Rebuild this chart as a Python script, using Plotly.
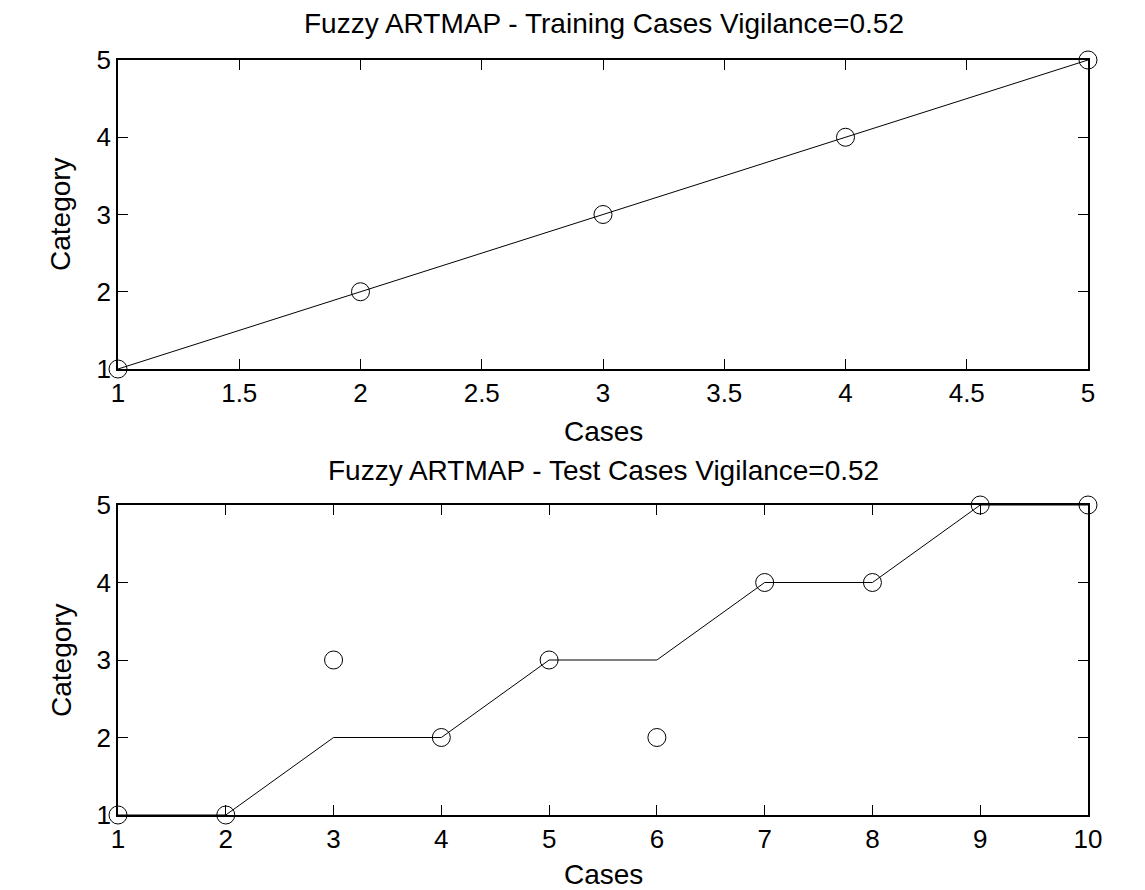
import plotly.graph_objects as go

# training cases
train_cases = [1, 2, 3, 4, 5]
train_target = [1, 2, 3, 4, 5]
train_pred = [1, 2, 3, 4, 5]

# test cases
test_cases = [1, 2, 3, 4, 5, 6, 7, 8, 9, 10]
test_target = [1, 1, 2, 2, 3, 3, 4, 4, 5, 5]
test_pred = [1, 1, 3, 2, 3, 2, 4, 4, 5, 5]

train_xticks = [1, 1.5, 2, 2.5, 3, 3.5, 4, 4.5, 5]
test_xticks = list(range(1, 11))
yticks = [1, 2, 3, 4, 5]

FONT = "Liberation Sans, Arial, sans-serif"
W, H = 1145, 890
OFF = 8  # page body margin

fig = go.Figure()

line_style = dict(color="black", width=1)
marker_style = dict(symbol="circle-open", size=18, color="black", line=dict(width=1))

fig.add_trace(go.Scatter(x=train_cases, y=train_target, mode="lines", line=line_style,
                         xaxis="x", yaxis="y", cliponaxis=False, showlegend=False))
fig.add_trace(go.Scatter(x=train_cases, y=train_pred, mode="markers", marker=marker_style,
                         xaxis="x", yaxis="y", cliponaxis=False, showlegend=False))
fig.add_trace(go.Scatter(x=test_cases, y=test_target, mode="lines", line=line_style,
                         xaxis="x2", yaxis="y2", cliponaxis=False, showlegend=False))
fig.add_trace(go.Scatter(x=test_cases, y=test_pred, mode="markers", marker=marker_style,
                         xaxis="x2", yaxis="y2", cliponaxis=False, showlegend=False))


def px_x(x):
    return (x - OFF) / W


def px_y(y):
    return 1 - (y - OFF) / H


axis_common = dict(
    showline=True, linecolor="black", linewidth=1.5, mirror="ticks",
    ticks="inside", ticklen=10, tickcolor="black", tickwidth=1,
    showgrid=False, zeroline=False, automargin=False,
    tickfont=dict(family=FONT, size=26, color="black"),
)

xdom = [px_x(118), px_x(1088)]
fig.update_layout(
    template="none",
    width=W, height=H, autosize=False,
    margin=dict(l=0, r=0, t=0, b=0, pad=0),
    paper_bgcolor="white", plot_bgcolor="white",
    font=dict(family=FONT, color="black"),
    xaxis=dict(domain=xdom, range=[1, 5], tickvals=train_xticks,
               anchor="y", **axis_common),
    yaxis=dict(domain=[px_y(369), px_y(60)], range=[1, 5], tickvals=yticks,
               anchor="x", **axis_common),
    xaxis2=dict(domain=xdom, range=[1, 10], tickvals=test_xticks,
                anchor="y2", **axis_common),
    yaxis2=dict(domain=[px_y(815), px_y(505)], range=[1, 5], tickvals=yticks,
                anchor="x2", **axis_common),
)


def label(text, x, y, angle=0):
    fig.add_annotation(text=text, x=px_x(x), y=px_y(y), xref="paper", yref="paper",
                       xanchor="center", yanchor="middle",
                       showarrow=False, textangle=angle,
                       font=dict(family=FONT, size=28, color="black"))


label("Fuzzy ARTMAP - Training Cases Vigilance=0.52", 604, 23)
label("Cases", 604, 431)
label("Category", 61, 214, -90)
label("Fuzzy ARTMAP - Test Cases Vigilance=0.52", 604, 470)
label("Cases", 604, 874)
label("Category", 61, 660, -90)

fig.write_html("out.html")
